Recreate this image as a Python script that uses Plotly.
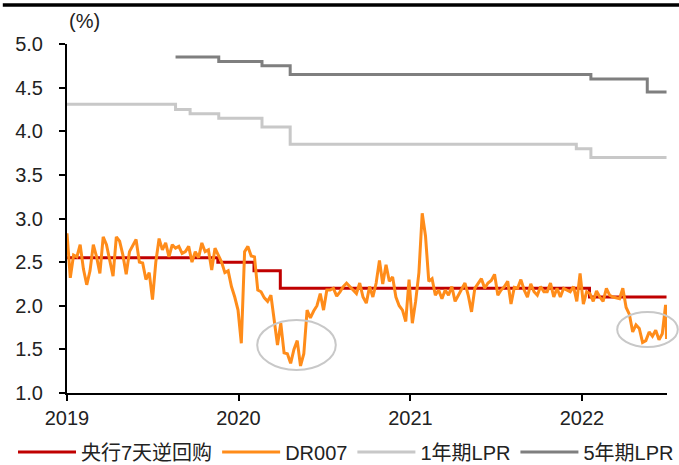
import pandas as pd
import plotly.graph_objects as go

# ---- data ----
repo_dates = ["2019-01-01", "2019-11-18", "2020-02-03", "2020-03-30", "2022-01-17", "2022-06-30"]
repo_vals = [2.55, 2.50, 2.40, 2.20, 2.10, 2.10]

lpr1_dates = ["2019-01-01", "2019-08-20", "2019-09-20", "2019-11-20", "2020-02-20",
              "2020-04-20", "2021-12-20", "2022-01-20", "2022-06-30"]
lpr1_vals = [4.31, 4.25, 4.20, 4.15, 4.05, 3.85, 3.80, 3.70, 3.70]

lpr5_dates = ["2019-08-20", "2019-11-20", "2020-02-20", "2020-04-20", "2022-01-20",
              "2022-05-20", "2022-06-30"]
lpr5_vals = [4.85, 4.80, 4.75, 4.65, 4.60, 4.45, 4.45]

dr007_vals = [
    2.83, 2.32, 2.58, 2.56, 2.70, 2.42, 2.24, 2.40, 2.70, 2.56,
    2.37, 2.79, 2.70, 2.50, 2.34, 2.79, 2.74, 2.58, 2.36, 2.62,
    2.70, 2.76, 2.50, 2.49, 2.30, 2.38, 2.07, 2.50, 2.77, 2.64,
    2.72, 2.56, 2.70, 2.66, 2.68, 2.60, 2.62, 2.68, 2.50, 2.62,
    2.55, 2.72, 2.62, 2.64, 2.41, 2.66, 2.58, 2.50, 2.38, 2.40,
    2.22, 2.10, 1.95, 1.57, 2.62, 2.68, 2.57, 2.56, 2.18, 2.16,
    2.09, 2.05, 2.12, 1.85, 1.55, 1.80, 1.46, 1.45, 1.34, 1.50,
    1.60, 1.31, 1.45, 1.95, 1.86, 1.94, 2.00, 2.14, 1.95, 2.18,
    2.18, 2.20, 2.11, 2.16, 2.22, 2.26, 2.22, 2.18, 2.14, 2.26,
    2.10, 2.03, 2.22, 2.10, 2.26, 2.52, 2.25, 2.47, 2.28, 2.33,
    2.10, 2.00, 1.95, 1.82, 2.30, 1.80, 2.05, 2.38, 3.06, 2.80,
    2.28, 2.31, 2.12, 2.18, 2.08, 2.18, 2.12, 2.22, 2.05, 2.12,
    2.20, 2.26, 2.12, 1.93, 2.20, 2.25, 2.31, 2.20, 2.26, 2.29,
    2.36, 2.12, 2.18, 2.22, 2.28, 2.02, 2.21, 2.20, 2.30, 2.18,
    2.10, 2.25, 2.16, 2.12, 2.22, 2.16, 2.16, 2.26, 2.10, 2.20,
    2.10, 2.20, 2.18, 2.16, 2.22, 2.05, 2.37, 2.02, 2.16, 2.14,
    2.05, 2.17, 2.10, 2.05, 2.20, 2.12, 2.10, 2.09, 2.08, 2.20,
    1.98, 1.90, 1.70, 1.78, 1.74, 1.58, 1.60, 1.70, 1.65, 1.72,
    1.61, 1.68, 2.01, 1.62,
]
dr007_dates = list(pd.date_range("2019-01-01", periods=183, freq="7D").strftime("%Y-%m-%d")) + ["2022-06-30"]

x_ticks = ["2019-01-01", "2020-01-01", "2021-01-01", "2022-01-01"]
x_tick_labels = ["2019", "2020", "2021", "2022"]
series_names = ["央行7天逆回购", "DR007", "1年期LPR", "5年期LPR"]

FONT = "Liberation Sans, Arial, Noto Sans CJK SC, sans-serif"

fig = go.Figure()
fig.add_trace(go.Scatter(x=repo_dates, y=repo_vals, name=series_names[0], mode="lines",
                         line=dict(color="#C00000", width=3, shape="hv")))
fig.add_trace(go.Scatter(x=dr007_dates, y=dr007_vals, name=series_names[1], mode="lines",
                         line=dict(color="#FF8C1A", width=3)))
fig.add_trace(go.Scatter(x=lpr1_dates, y=lpr1_vals, name=series_names[2], mode="lines",
                         line=dict(color="#C8C8C8", width=3, shape="hv")))
fig.add_trace(go.Scatter(x=lpr5_dates, y=lpr5_vals, name=series_names[3], mode="lines",
                         line=dict(color="#7F7F7F", width=3, shape="hv")))

fig.update_layout(
    width=679, height=465,
    margin=dict(l=67, r=12, t=44, b=72, autoexpand=False),
    paper_bgcolor="white", plot_bgcolor="white",
    font=dict(family=FONT, size=20, color="#222222"),
    showlegend=True,
    legend=dict(orientation="h", x=-0.09, y=-0.169, xanchor="left", yanchor="middle",
                font=dict(size=20, color="#222222"), itemwidth=58,
                tracegroupgap=0, bgcolor="rgba(0,0,0,0)"),
    xaxis=dict(type="date", range=["2019-01-01", "2022-07-01"],
               tickvals=x_ticks, ticktext=x_tick_labels,
               showline=True, linecolor="black", linewidth=2,
               ticks="outside", ticklen=6, tickwidth=2, tickcolor="black",
               showgrid=False, zeroline=False, tickfont=dict(size=20)),
    yaxis=dict(range=[1.0, 5.0], dtick=0.5, tick0=1.0, tickformat=".1f",
               showline=True, linecolor="black", linewidth=2,
               ticks="outside", ticklen=6, tickwidth=2, tickcolor="black",
               showgrid=False, zeroline=False, tickfont=dict(size=20),
               ticklabelstandoff=12),
)

fig.add_annotation(text="(%)", xref="paper", yref="paper", x=0.0, y=1.065,
                   xanchor="left", yanchor="middle", showarrow=False,
                   font=dict(size=20, color="#222222"))

# decorative ellipses
fig.add_shape(type="circle", xref="paper", yref="paper",
              x0=0.317, x1=0.448, y0=0.066, y1=0.209,
              line=dict(color="#C8C8C8", width=2))
fig.add_shape(type="circle", xref="paper", yref="paper",
              x0=0.917, x1=1.018, y0=0.132, y1=0.232,
              line=dict(color="#C8C8C8", width=2))
# top rule
fig.add_shape(type="line", xref="paper", yref="paper",
              x0=-0.107, x1=1.02, y0=1.1115, y1=1.1115,
              line=dict(color="black", width=3.5))

fig.write_html("out.html", config={"displayModeBar": False},
               post_script="document.body.style.margin='0';document.body.style.padding='0';")
